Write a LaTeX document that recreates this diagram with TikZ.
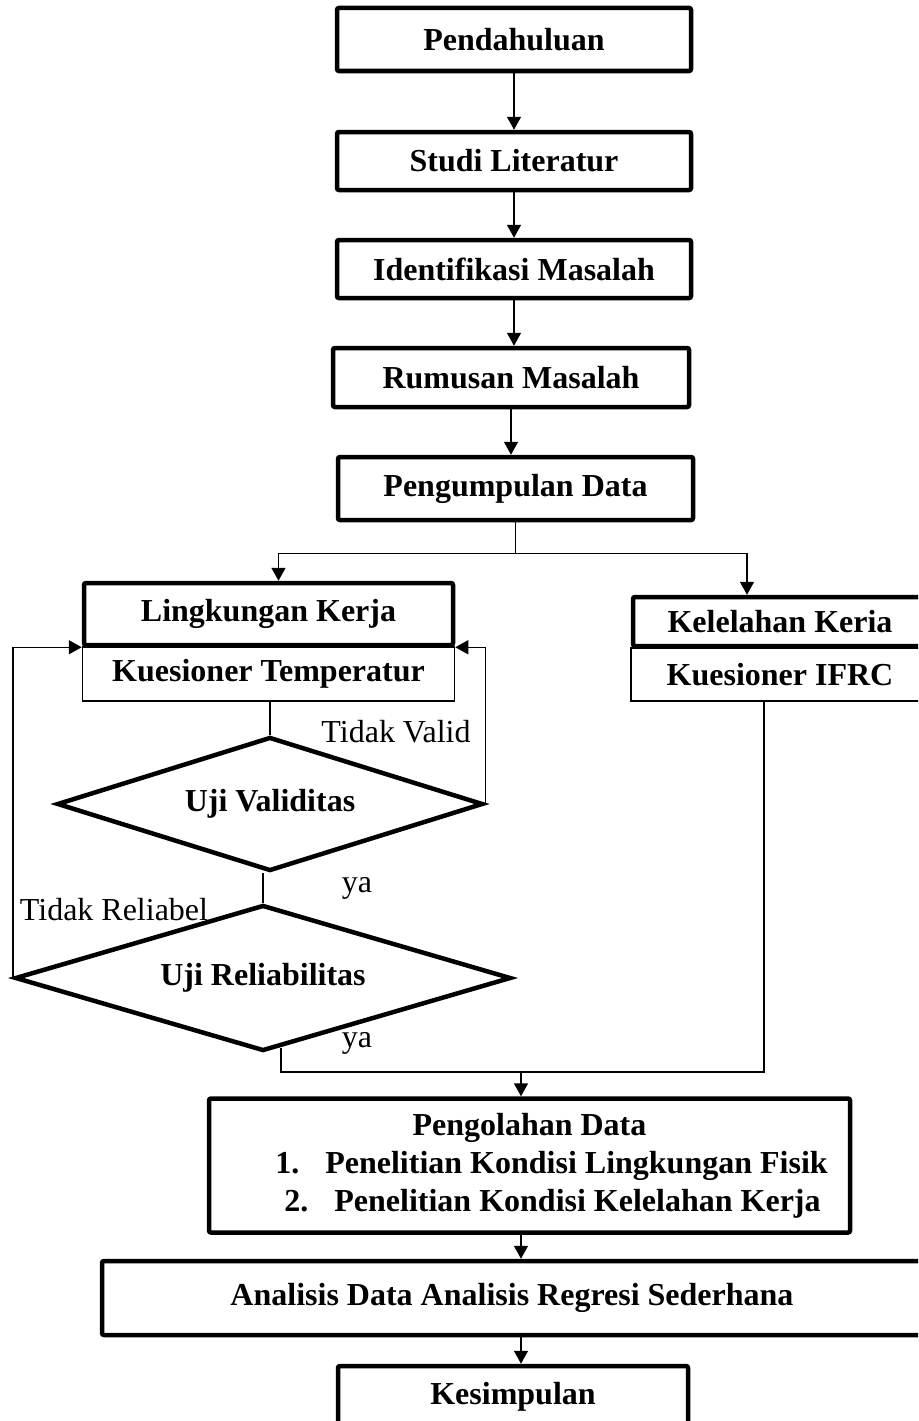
\documentclass[tikz,border=0pt]{standalone}
\usepackage{fontspec}
\setmainfont{Liberation Serif}
\usetikzlibrary{shapes.geometric, arrows.meta, calc}

\begin{document}
\begin{tikzpicture}[x=1pt, y=-1pt,
  box/.style={draw, line width=4.5pt, rounded corners=2pt, align=center, font=\fontsize{32}{38}\selectfont\bfseries},
  subbox/.style={draw, line width=1.5pt, align=center, font=\fontsize{32}{38}\selectfont\bfseries},
  decision/.style={draw, diamond, shape aspect=3.3, line width=4.5pt, inner sep=0pt, font=\fontsize{32}{38}\selectfont\bfseries},
  remark/.style={font=\fontsize{32}{38}\selectfont},
  link/.style={line width=1.5pt},
  arr/.style={line width=1.5pt, -{Triangle[length=13pt, width=14pt]}},
]
\useasboundingbox (0,0) rectangle (918,1421);
\clip (0,0) rectangle (918,1421);

% Main chain of steps
\node[box, minimum width=354pt, minimum height=63pt] (pend) at (514,39.5) {Pendahuluan};
\node[box, minimum width=354pt, minimum height=58pt] (studi) at (514,161) {Studi Literatur};
\node[box, minimum width=354pt, minimum height=58pt] (ident) at (514,269) {Identifikasi Masalah};
\node[box, minimum width=356pt, minimum height=59pt] (rumus) at (511,377.5) {Rumusan Masalah};
\node[box, minimum width=355pt, minimum height=63pt] (kumpul) at (515.5,488.5) {Pengumpulan Data};

\draw[arr] (pend.south) -- (pend.south |- studi.north);
\draw[arr] (studi.south) -- (studi.south |- ident.north);
\draw[arr] (ident.south) -- (ident.south |- rumus.north);
\draw[arr] (rumus.south) -- (rumus.south |- kumpul.north);


% Two branches of data collection
\node[subbox, minimum width=372pt, minimum height=54pt] (ktemp) at (268.5,674) {Kuesioner Temperatur};
\node[box, minimum width=369pt, minimum height=62pt] (ling) at (268.5,614) {Lingkungan Kerja};
\node[subbox, minimum width=298pt, minimum height=53pt] (kifrc) at (780,674.5) {Kuesioner IFRC};
\node[box, minimum width=294pt, minimum height=49pt] (kel) at (780,621.5) {Kelelahan Keria};

\draw[link] (kumpul.south) -- ++(0,31) coordinate (split);
\draw[arr] (split) -| ([xshift=10pt]ling.north);
\draw[arr] (split) -| ([xshift=-33pt]kel.north);


% Tests of the questionnaire
\node[decision, minimum width=426pt, minimum height=134pt] (val) at (270,804) {Uji Validitas};
\node[decision, minimum width=496pt, minimum height=146pt] (rel) at (263,978) {Uji Reliabilitas};

\draw[link] (val.north |- ktemp.south) -- (val.north);
\draw[arr] (val.east) |- (ling.south east);
\node[remark] (tvalid) at (396,732) {Tidak Valid};

\draw[link] (rel.north |- val.south) -- (rel.north);
\node[remark] (ya1) at (357,888) {ya};

\draw[arr] (rel.west) |- (ling.south west);
\node[remark] (trel) at (114,910) {Tidak Reliabel};


% Processing, analysis and conclusion
\node[box, minimum width=641pt, minimum height=134pt] (olah) at (529.5,1165.5) {Pengolahan Data\\
  \hspace*{44pt}1.\hspace{26pt}Penelitian Kondisi Lingkungan Fisik\\
  \hspace*{46pt}2.\hspace{26pt}Penelitian Kondisi Kelelahan Kerja};
\node[box, minimum width=820pt, minimum height=74pt] (anal) at (512,1298) {Analisis Data Analisis Regresi Sederhana};
\node[box, minimum width=350pt, minimum height=61pt] (simp) at (513,1396.5) {Kesimpulan};

\coordinate (relout) at ($(rel.south)!0.072!(rel.east)$);
\coordinate (merge) at (521,1072);
\draw[link] (relout) |- (merge);
\draw[link] ([xshift=-16pt]kifrc.south) |- (merge);
\node[remark] (ya2) at (357,1043) {ya};

\draw[arr] (merge) -- (merge |- olah.north);
\draw[arr] (merge |- olah.south) -- (merge |- anal.north);
\draw[arr] (merge |- anal.south) -- (merge |- simp.north);

\end{tikzpicture}
\end{document}
